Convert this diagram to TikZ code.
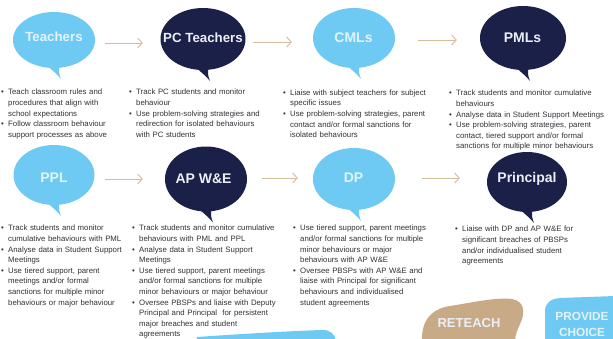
\documentclass[tikz,border=0pt]{standalone}
\usepackage{fontspec}
\setmainfont{Liberation Sans}
\usetikzlibrary{shapes.geometric,arrows.meta}
\definecolor{lblue}{RGB}{110,202,242}
\definecolor{navy}{RGB}{27,32,72}
\definecolor{tanc}{RGB}{200,170,135}
\definecolor{arrowc}{RGB}{215,188,158}
\definecolor{txt}{RGB}{50,50,55}
\definecolor{ltxt}{RGB}{228,243,251}
\definecolor{ntxt}{RGB}{236,238,246}
\newcommand{\bub}[6]{%
  \node[bubshape, fill=#6, minimum width={2*#4}, minimum height={2*#5}] (#1) at (#2,#3) {};
  \fill[#6] ({#2-10},{#3+#5-5}) .. controls ({#2-2},{#3+#5+2}) and ({#2+4},{#3+#5+7}) .. ({#2+7},{#3+#5+11}) .. controls ({#2+5},{#3+#5+6}) and ({#2+4},{#3+#5+2}) .. ({#2+6},{#3+#5-3}) -- cycle;
}
\newcommand{\itm}{\par\hangindent=7pt\hangafter=1\noindent\makebox[7pt][l]{\textbullet}}
\tikzset{
  bubshape/.style={ellipse, inner sep=0pt, draw=none},
  bubtext/.style={anchor=base, inner sep=0pt, font=\bfseries\fontsize{14}{16}\selectfont},
  lst/.style={anchor=north west, inner sep=0pt, text width=175pt, align=left,
    font=\fontsize{7.8}{10.6}\selectfont, text=txt},
  arr/.style={draw=arrowc, line width=0.9pt, -{Straight Barb[length=4.5pt,width=10pt]}},
  blobtext/.style={inner sep=0pt, font=\bfseries\fontsize{13}{16}\selectfont, align=center}
}
\begin{document}
\begin{tikzpicture}[x=1pt,y=-1pt]
\useasboundingbox (0,0) rectangle (613,338);
\clip (0,0) rectangle (613,338);
\fill[white] (0,0) rectangle (613,338);

% bubbles row 1
\bub{t}{54}{40}{41}{28}{lblue}
\bub{pc}{203}{39}{42.5}{31}{navy}
\bub{cml}{354}{38}{41}{30}{lblue}
\bub{pml}{523}{38}{43}{32}{navy}
% bubbles row 2
\bub{ppl}{54}{175}{40.5}{30}{lblue}
\bub{ap}{206}{179}{41}{32.5}{navy}
\bub{dp}{354}{179}{41}{31}{lblue}
\bub{pr}{527}{182}{40}{30}{navy}

% bubble texts
\node[bubtext, text=ltxt, font=\bfseries\fontsize{13.3}{16}\selectfont] (t-t) at (54,41) {Teachers};
\node[bubtext, text=ntxt, font=\bfseries\fontsize{13.3}{16}\selectfont] (pc-t) at (203,42) {PC Teachers};
\node[bubtext, text=ltxt] (cml-t) at (353.5,42) {CMLs};
\node[bubtext, text=ntxt] (pml-t) at (522.5,42) {PMLs};
\node[bubtext, text=ltxt] (ppl-t) at (54,182) {PPL};
\node[bubtext, text=ntxt] (ap-t) at (203.5,183) {AP W\&E};
\node[bubtext, text=ltxt] (dp-t) at (353.5,182) {DP};
\node[bubtext, text=ntxt] (pr-t) at (527,182) {Principal};

% arrows
\draw[arr] ([shift={(10,3)}]t.east) -- ([shift={(-17.5,4)}]pc.west);
\draw[arr] ([shift={(7.5,3)}]pc.east) -- ([shift={(-21,4)}]cml.west);
\draw[arr] ([shift={(23,2)}]cml.east) -- ([shift={(-23,2)}]pml.west);
\draw[arr] ([shift={(10.5,4)}]ppl.east) -- ([shift={(-22,0)}]ap.west);
\draw[arr] ([shift={(15,-1)}]ap.east) -- ([shift={(-15,-1)}]dp.west);
\draw[arr] ([shift={(27,-1)}]dp.east) -- ([shift={(-27,-4)}]pr.west);

% lists row 1
\node[lst] (l1) at (1,84) {%
\itm Teach classroom rules and\newline procedures that align with\newline school expectations
\itm Follow classroom behaviour\newline support processes as above\par};
\node[lst] (l2) at (129,84) {%
\itm Track PC students and monitor\newline behaviour
\itm Use problem-solving strategies and\newline redirection for isolated behaviours\newline with PC students\par};
\node[lst] (l3) at (283,84.5) {%
\itm Liaise with subject teachers for subject\newline specific issues
\itm Use problem-solving strategies, parent\newline contact and/or formal sanctions for\newline isolated behaviours\par};
\node[lst] (l4) at (449,85) {%
\itm Track students and monitor cumulative\newline behaviours
\itm Analyse data in Student Support Meetings
\itm Use problem-solving strategies, parent\newline contact, tiered support and/or formal\newline sanctions for multiple minor behaviours\par};

% lists row 2
\node[lst] (l5) at (1,220) {%
\itm Track students and monitor\newline cumulative behaviours with PML
\itm Analyse data in Student Support\newline Meetings
\itm Use tiered support, parent\newline meetings and/or formal\newline sanctions for multiple minor\newline behaviours or major behaviour\par};
\node[lst] (l6) at (132,220) {%
\itm Track students and monitor cumulative\newline behaviours with PML and PPL
\itm Analyse data in Student Support\newline Meetings
\itm Use tiered support, parent meetings\newline and/or formal sanctions for multiple\newline minor behaviours or major behaviour
\itm Oversee PBSPs and liaise with Deputy\newline Principal and Principal \ for persistent\newline major breaches and student\newline agreements\par};
\node[lst] (l7) at (293,220) {%
\itm Use tiered support, parent meetings\newline and/or formal sanctions for multiple\newline minor behaviours or major\newline behaviours with AP W\&E
\itm Oversee PBSPs with AP W\&E and\newline liaise with Principal for significant\newline behaviours and individualised\newline student agreements\par};
\node[lst] (l8) at (455,221) {%
\itm Liaise with DP and AP W\&E for\newline significant breaches of PBSPs\newline and/or individualised student\newline agreements\par};

% bottom blobs
\fill[lblue] (196,342) -- (197,337) .. controls (240,334) and (290,331) .. (322,330) .. controls (330,330) and (335,333) .. (336,342) -- cycle;
\fill[tanc] (422,342) .. controls (421,322) and (430,309) .. (450,306) .. controls (470,303) and (495,297) .. (512,299) .. controls (524,301) and (526,312) .. (520,324) .. controls (517,331) and (515,335) .. (515,342) -- cycle;
\node[blobtext, text=ntxt] (rt) at (469,323) {RETEACH};
\fill[lblue] (545,342) -- (545,312) .. controls (545,303) and (550,299) .. (560,298) -- (615,296) -- (615,342) -- cycle;
\node[blobtext, text=ltxt, font=\bfseries\fontsize{11.8}{16}\selectfont] (pcx) at (582,324) {PROVIDE\\CHOICE};
\end{tikzpicture}
\end{document}
